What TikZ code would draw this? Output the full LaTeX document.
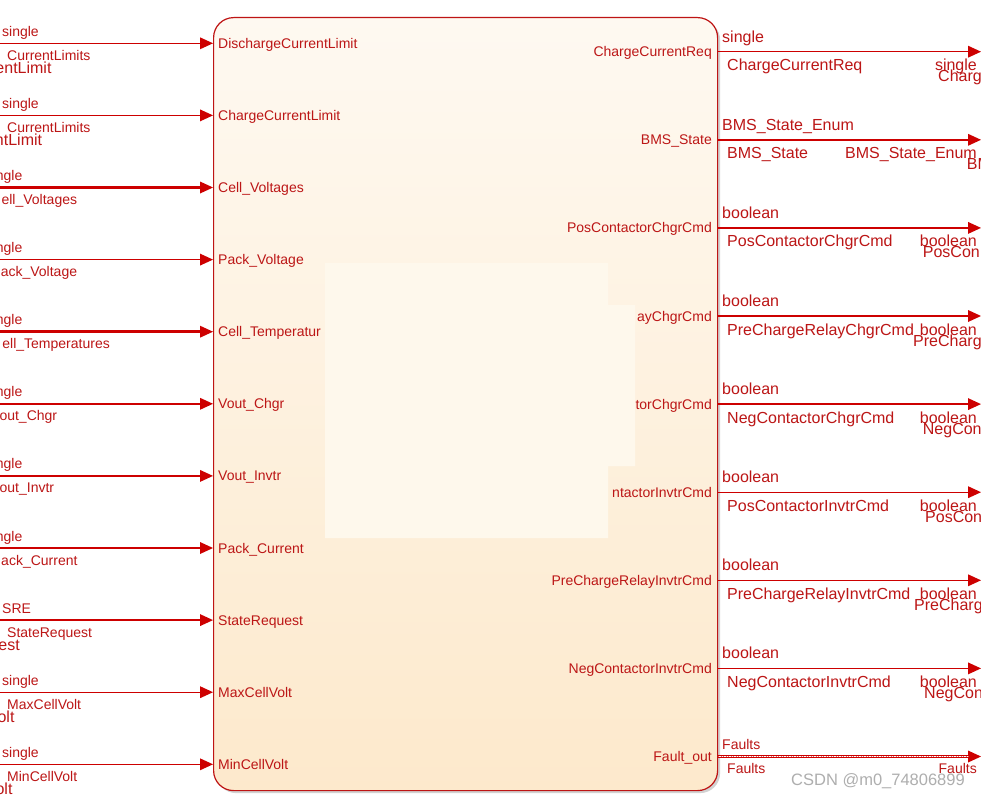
\documentclass[tikz,border=0pt]{standalone}
\usepackage{fontspec}
\setmainfont{Liberation Sans}
\usetikzlibrary{arrows.meta,shadows}
\definecolor{sigred}{RGB}{205,0,0}
\definecolor{txtred}{RGB}{188,22,22}
\definecolor{edgered}{RGB}{190,20,20}
\definecolor{blktop}{RGB}{254,249,241}
\definecolor{blkbot}{RGB}{253,233,204}
\definecolor{ovl}{RGB}{254,248,236}
\definecolor{wm}{RGB}{160,160,160}
\begin{document}
\begin{tikzpicture}[x=1pt,y=-1pt,
  lbl/.style={font=\fontsize{14}{16}\selectfont, text=txtred, inner sep=0pt},
  biglbl/.style={font=\fontsize{16}{18}\selectfont, text=txtred, inner sep=0pt},
  sig/.style={draw=sigred, line width=1.4pt, -{Triangle[length=13pt,width=12pt,line width=0pt]}},
  fatsig/.style={sig, line width=3pt},
  blockbox/.style={draw=edgered, line width=1.2pt, rounded corners=20pt,
    top color=blktop, bottom color=blkbot,
    drop shadow={shadow xshift=2.5pt, shadow yshift=-2.5pt, opacity=0.35},
    minimum width=504pt, minimum height=773pt, inner sep=0pt},
]
\clip (0,0) rectangle (981,797);
\useasboundingbox (0,0) rectangle (981,797);
\fill[white] (0,0) rectangle (981,797);

% main block
\node[blockbox, anchor=north west] (blk) at (213,17) {};
% overlay patch
\fill[ovl] (325,263) -- (608,263) -- (608,305) -- (635,305) -- (635,466)
  -- (608,466) -- (608,538) -- (325,538) -- cycle;

% ---------------- inputs ----------------
\foreach \i/\y in {1/43.3,2/115.4,3/187.5,4/259.6,5/331.7,6/403.8,7/475.9,8/548,9/620.1,10/692.2,11/764.3}{
  \coordinate (s\i) at (0,\y);
}
\foreach \i in {1,2,4,6,7,8,9,10,11}{
  \draw[sig] (s\i) -- (s\i -| blk.west);
}
\draw[fatsig] (s3) -- (s3 -| blk.west);
\draw[fatsig] (s5) -- (s5 -| blk.west);

% input port names
\foreach \i/\t in {1/DischargeCurrentLimit,2/ChargeCurrentLimit,3/Cell\_Voltages,4/Pack\_Voltage,5/Cell\_Temperatur,6/Vout\_Chgr,7/Vout\_Invtr,8/Pack\_Current,9/StateRequest,10/MaxCellVolt,11/MinCellVolt}{
  \node[lbl, anchor=base west] (ip\i) at ([xshift=218pt,yshift=-5pt]s\i) {\t};
}

% input signal labels (above)
\foreach \i/\t in {1/single,2/single,9/SRE,10/single,11/single}{
  \node[lbl, anchor=base west] (ia\i) at ([xshift=2pt,yshift=7pt]s\i) {\t};
}
\foreach \i in {3,4,5,6,7,8}{
  \node[lbl, anchor=base east] (ia\i) at ([xshift=22.5pt,yshift=7pt]s\i) {ngle};
}
% input signal labels (below)
\foreach \i/\t in {1/CurrentLimits,2/CurrentLimits,9/StateRequest,10/MaxCellVolt,11/MinCellVolt}{
  \node[lbl, anchor=base west] (ib\i) at ([xshift=7pt,yshift=-17pt]s\i) {\t};
}
\foreach \i/\t/\e in {3/ell\_Voltages/77.3,4/ack\_Voltage/77.3,5/ell\_Temperatures/110,6/out\_Chgr/57.3,7/out\_Invtr/54.3,8/ack\_Current/77.7}{
  \node[lbl, anchor=base east] (ib\i) at ([xshift=\e pt,yshift=-17pt]s\i) {\t};
}
% input third-line labels
\foreach \i/\t/\e in {1/entLimit/51.7,2/ntLimit/42.3,9/est/20,10/olt/14.7,11/olt/12.7}{
  \node[biglbl, anchor=base east] (ic\i) at ([xshift=\e pt,yshift=-30pt]s\i) {\t};
}

% ---------------- outputs ----------------
\foreach \i/\y in {1/51.7,2/139.8,3/227.9,4/316,5/404.1,6/492.2,7/580.3,8/668.4,9/756.5}{
  \coordinate (d\i) at (981,\y);
}
\foreach \i in {1,...,9}{
  \draw[sig] (d\i -| blk.east) -- (d\i);
}
\draw[draw=sigred, line width=0.9pt, double=white, double distance=1.6pt, shorten >=12pt]
  (d9 -| blk.east) -- (d9);
\draw[sigred!60, line width=0.5pt, dotted, shorten >=12pt] (d9 -| blk.east) -- (d9);

% output port names
\foreach \i/\t in {1/ChargeCurrentReq,2/BMS\_State,3/PosContactorChgrCmd,4/ayChgrCmd,5/torChgrCmd,6/ntactorInvtrCmd,7/PreChargeRelayInvtrCmd,8/NegContactorInvtrCmd,9/Fault\_out}{
  \node[lbl, anchor=base east] (op\i) at ([xshift=-269pt,yshift=-5pt]d\i) {\t};
}
% output labels above
\foreach \i/\t in {1/single,2/BMS\_State\_Enum,3/boolean,4/boolean,5/boolean,6/boolean,7/boolean,8/boolean}{
  \node[biglbl, anchor=base west] (oa\i) at ([xshift=-259pt,yshift=9.5pt]d\i) {\t};
}
\node[lbl, anchor=base west] (oa9) at ([xshift=-259pt,yshift=7.5pt]d9) {Faults};
% output labels below
\foreach \i/\t in {1/ChargeCurrentReq,2/BMS\_State,3/PosContactorChgrCmd,4/PreChargeRelayChgrCmd,5/NegContactorChgrCmd,6/PosContactorInvtrCmd,7/PreChargeRelayInvtrCmd,8/NegContactorInvtrCmd}{
  \node[biglbl, anchor=base west] (ob\i) at ([xshift=-254pt,yshift=-19pt]d\i) {\t};
}
\node[lbl, anchor=base west] (ob9) at ([xshift=-254pt,yshift=-17pt]d9) {Faults};
% destination labels (right end)
\foreach \i/\t in {1/single,2/BMS\_State\_Enum,3/boolean,4/boolean,5/boolean,6/boolean,7/boolean,8/boolean}{
  \node[biglbl, anchor=base east] (oe\i) at ([xshift=-4pt,yshift=-19pt]d\i) {\t};
}
\node[lbl, anchor=base east] (oe9) at ([xshift=-4pt,yshift=-17pt]d9) {Faults};
\foreach \i/\t/\s in {1/Charg/938,2/BM/966.7,3/PosCon/922.7,4/PreCharg/913,5/NegCon/922.7,6/PosCon/925,7/PreCharg/914,8/NegCon/924}{
  \node[biglbl, anchor=base west] (of\i) at ([yshift=-30pt]\s,0 |- d\i) {\t};
}

% watermark
\node[font=\fontsize{16.5}{18}\selectfont, text=wm, text opacity=0.85, inner sep=0pt, anchor=base west] (wmk) at (791,785) {CSDN @m0\_74806899};
\end{tikzpicture}
\end{document}
